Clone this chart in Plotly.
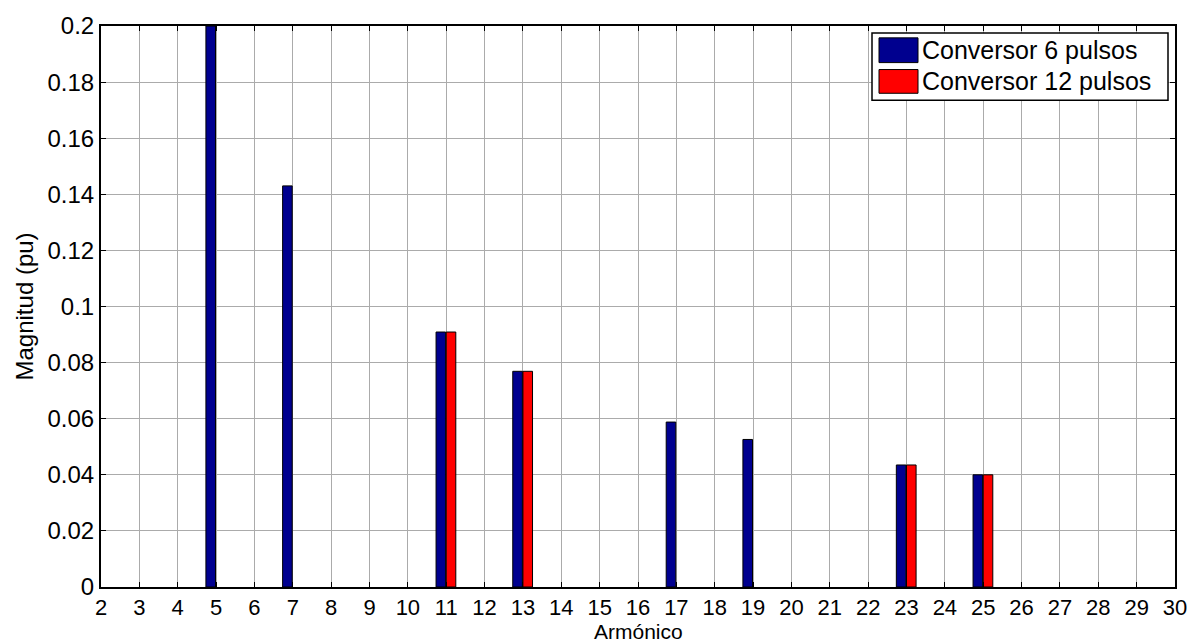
import plotly.graph_objects as go

# Harmonic spectrum of 6-pulse and 12-pulse converters (magnitude in pu)
harm_6p = [5, 7, 11, 13, 17, 19, 23, 25]
mag_6p = [0.2, 0.143, 0.0909, 0.0769, 0.0588, 0.0526, 0.0435, 0.04]
harm_12p = [11, 13, 23, 25]
mag_12p = [0.0909, 0.0769, 0.0435, 0.04]

series_names = ["Conversor 6 pulsos", "Conversor 12 pulsos"]
series_colors = ["#00008F", "#FF0000"]

x_ticks = list(range(2, 31))
y_ticks = [0, 0.02, 0.04, 0.06, 0.08, 0.1, 0.12, 0.14, 0.16, 0.18, 0.2]
y_tick_text = ["0", "0.02", "0.04", "0.06", "0.08", "0.1", "0.12", "0.14", "0.16", "0.18", "0.2"]

FONT = "Liberation Sans, Arial, sans-serif"
W, H = 1199, 643
ML, MR, MT, MB = 101, 24, 20, 56
PW, PH = W - ML - MR, H - MT - MB


def px_x(px):
    """Pixel column -> paper x."""
    return (px - ML) / PW


def px_y(py):
    """Pixel row (from top) -> paper y."""
    return (H - MB - py) / PH


fig = go.Figure()
fig.add_trace(go.Bar(
    x=harm_6p, y=mag_6p, name=series_names[0], showlegend=False,
    width=0.25, offset=-0.265,
    marker=dict(color=series_colors[0], line=dict(color="#000000", width=1)),
))
fig.add_trace(go.Bar(
    x=harm_12p, y=mag_12p, name=series_names[1], showlegend=False,
    width=0.25, offset=0.0,
    marker=dict(color=series_colors[1], line=dict(color="#000000", width=1)),
))

axis_common = dict(
    showline=True, linecolor="#000000", linewidth=2, mirror="ticks",
    ticks="inside", ticklen=5, tickcolor="#000000",
    showgrid=True, gridcolor="#ababab", gridwidth=1,
    zeroline=False,
)

# Legend box drawn with shapes and text
shapes = [
    dict(type="rect", xref="paper", yref="paper", layer="above",
         x0=px_x(872), x1=px_x(1168), y0=px_y(95), y1=px_y(27),
         fillcolor="#ffffff", line=dict(color="#000000", width=1.5)),
]
annotations = []
rows = [(32, 57), (64, 88)]
for (top, bot), name, col in zip(rows, series_names, series_colors):
    shapes.append(dict(type="rect", xref="paper", yref="paper", layer="above",
                       x0=px_x(879), x1=px_x(918), y0=px_y(bot), y1=px_y(top),
                       fillcolor=col, line=dict(color="#000000", width=1)))
    annotations.append(dict(text=name, xref="paper", yref="paper",
                            x=px_x(920), y=px_y((top + bot) / 2),
                            xanchor="left", yanchor="middle", showarrow=False,
                            font=dict(family=FONT, size=25, color="#000000")))

annotations += [
    dict(text="Armónico", xref="paper", yref="paper", x=0.5, y=px_y(631.5),
         xanchor="center", yanchor="middle", showarrow=False,
         font=dict(family=FONT, size=21, color="#000000")),
    dict(text="Magnitud (pu)", xref="paper", yref="paper", x=px_x(24), y=0.5,
         xanchor="center", yanchor="middle", showarrow=False, textangle=-90,
         font=dict(family=FONT, size=24, color="#000000")),
]

fig.update_layout(
    width=W, height=H,
    margin=dict(l=ML, r=MR, t=MT, b=MB),
    paper_bgcolor="#ffffff", plot_bgcolor="#ffffff",
    barmode="overlay",
    font=dict(family=FONT, size=24, color="#000000"),
    xaxis=dict(range=[2, 30], tickmode="array", tickvals=x_ticks,
               tickfont=dict(family=FONT, size=22, color="#000000"), **axis_common),
    yaxis=dict(range=[0, 0.2], tickmode="array", tickvals=y_ticks,
               ticktext=y_tick_text,
               tickfont=dict(family=FONT, size=24, color="#000000"), **axis_common),
    shapes=shapes,
    annotations=annotations,
)

fig.write_html("out.html")
